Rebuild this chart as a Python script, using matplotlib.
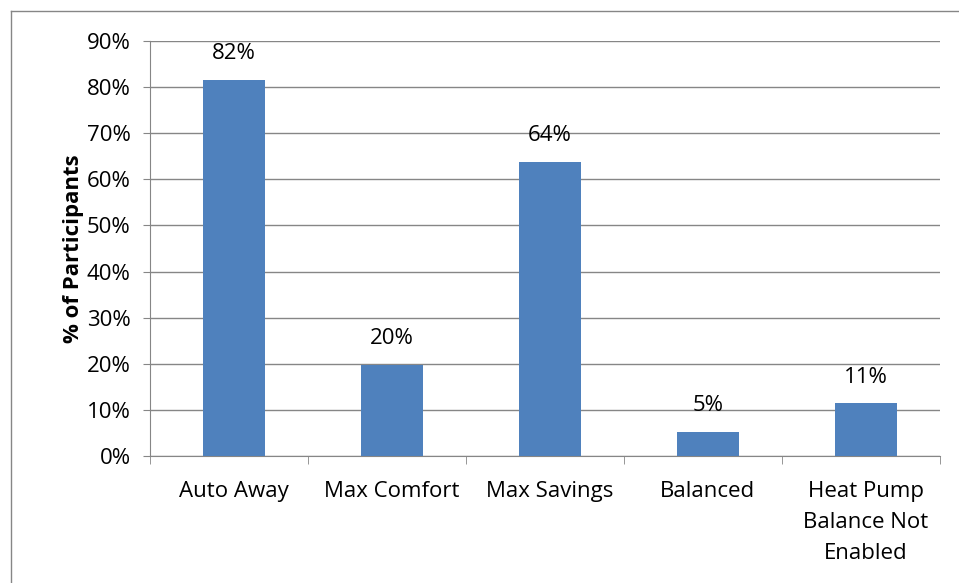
import numpy as np
import matplotlib.pyplot as plt
from matplotlib.lines import Line2D
from matplotlib.ticker import PercentFormatter

categories = ["Auto Away", "Max Comfort", "Max Savings", "Balanced", "Heat Pump\nBalance Not\nEnabled"]
values = [81.6, 19.8, 63.8, 5.3, 11.4]
labels = ["82%", "20%", "64%", "5%", "11%"]

plt.rcParams['font.family'] = ['Open Sans', 'DejaVu Sans']
FS = 16

fig = plt.figure(figsize=(9.59, 5.83), dpi=100)
ax = fig.add_axes([150 / 959, 127 / 583, 790 / 959, 415 / 583])

x = np.arange(len(categories)) + 0.03
ax.bar(x, values, width=0.39, color="#4F81BD", zorder=3)
for xi, v, lab in zip(x, values, labels):
    ax.text(xi, v + 3.4, lab, ha="center", va="bottom", fontsize=FS)

ax.set_xlim(-0.5, len(categories) - 0.5)
ax.set_ylim(0, 90)
ax.set_yticks(np.arange(0, 91, 10))
ax.yaxis.set_major_formatter(PercentFormatter(decimals=0))
ax.grid(axis="y", color="#868686", linewidth=1, zorder=0)

ax.set_xticks(x)
ax.set_xticklabels(categories, fontsize=FS, linespacing=1.62)
ax.set_xticks(np.arange(-0.5, len(categories), 1), minor=True)
ax.tick_params(axis="x", which="major", length=0, pad=18)
ax.tick_params(axis="x", which="minor", length=6, color="#868686")
ax.tick_params(axis="y", length=5, color="#868686", labelsize=FS, pad=9)
ax.set_ylabel("% of Participants", fontsize=FS, fontweight="bold", labelpad=2)

for s in ["top", "right"]:
    ax.spines[s].set_visible(False)
for s in ["left", "bottom"]:
    ax.spines[s].set_color("#868686")

# outer frame
fig.add_artist(Line2D([11 / 959, 11 / 959], [0, 1 - 11 / 583], transform=fig.transFigure, color="#868686", lw=1))
fig.add_artist(Line2D([11 / 959, 1], [1 - 11 / 583, 1 - 11 / 583], transform=fig.transFigure, color="#868686", lw=1))

plt.savefig("out.png", dpi=100)
